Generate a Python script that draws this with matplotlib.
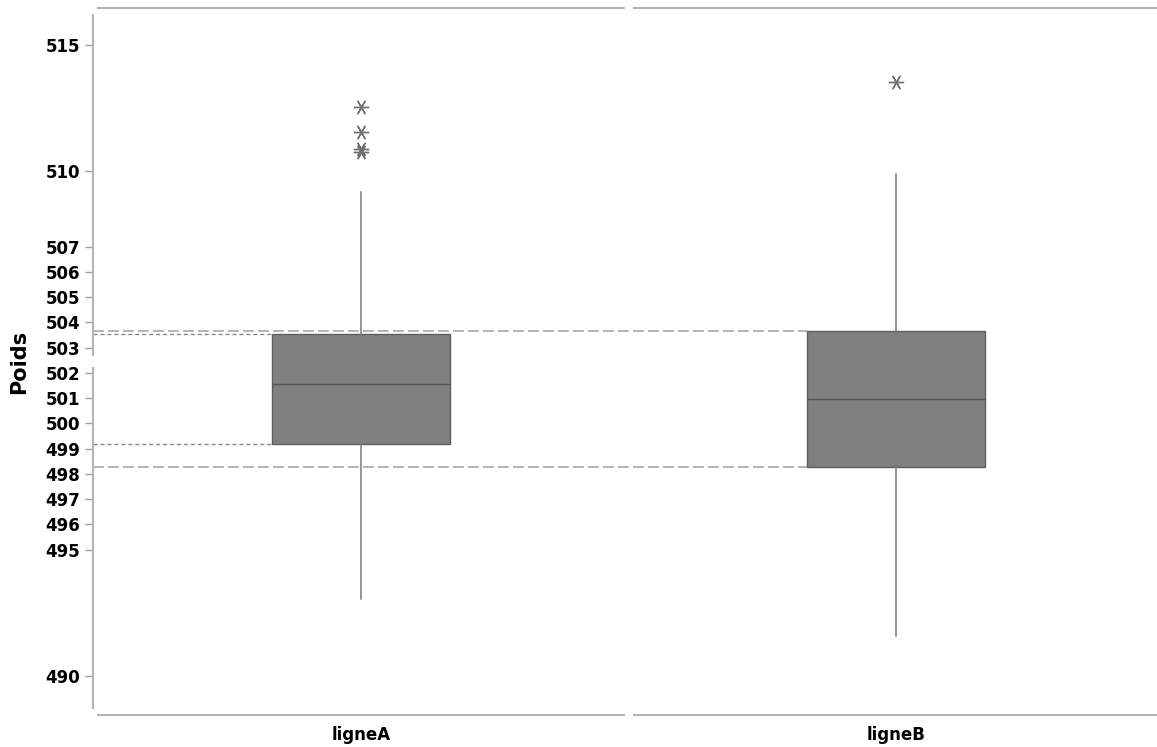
import matplotlib.pyplot as plt
from matplotlib.markers import MarkerStyle

# box statistics
groups = ["ligneA", "ligneB"]
q1 = [499.18, 498.28]
med = [501.56, 500.96]
q3 = [503.53, 503.66]
whislo = [493.04, 491.58]
whishi = [509.17, 509.88]
outliers = [[512.55, 511.56, 510.87, 510.75], [513.52]]

yticks = [490, 495, 496, 497, 498, 499, 500, 501, 502, 503, 504, 505, 506, 507, 510, 515]

W, H = 1157, 747
fig = plt.figure(figsize=(W / 100, H / 100), dpi=100)
ax = fig.add_axes([93 / W, (H - 715) / H, 1064 / W, (715 - 8) / H])

plt.rcParams['font.family'] = ['Open Sans', 'DejaVu Sans']

stats = []
for i, g in enumerate(groups):
    stats.append({"label": g, "q1": q1[i], "med": med[i], "q3": q3[i],
                  "whislo": whislo[i], "whishi": whishi[i], "fliers": outliers[i]})

box_w = 0.333
star = MarkerStyle((6, 2, 90))
ax.bxp(stats, positions=[0, 1], widths=box_w, showcaps=False, patch_artist=True,
       boxprops=dict(facecolor="#808080", edgecolor="#5e5e5e", linewidth=1),
       medianprops=dict(color="#555555", linewidth=1),
       whiskerprops=dict(color="#7a7a7a", linewidth=1.1),
       flierprops=dict(marker=star, markersize=11, markeredgecolor="#707070",
                       markerfacecolor="none", markeredgewidth=1, linestyle="none"),
       zorder=3)

xl, xr = -0.501, 1.488
ax.set_xlim(xl, xr)
ax.set_ylim(488.455, 516.455)

# reference lines from the axis to the boxes
for i, (ls_dash, lw, col) in enumerate([((3, 2), 1.0, "#8a8a8a"), ((6.5, 2.5), 1.2, "#a8a8a8")]):
    for v in (q1[i], q3[i]):
        ax.hlines(v, xl, i - box_w / 2, colors=col, linewidth=lw,
                  linestyles=(0, ls_dash), zorder=2)

for s in ax.spines.values():
    s.set_visible(False)

# broken left axis and split top/bottom frame
spine_col = "#b4b4b4"
ax.vlines(xl, 502.67, 516.22, colors=spine_col, linewidth=1.5, clip_on=False)
ax.vlines(xl, 488.69, 502.24, colors=spine_col, linewidth=1.5, clip_on=False)
for yy in (0, 1):
    ax.axhline(516.455 if yy else 488.455, xmin=5 / 1064, xmax=531 / 1064,
               color=spine_col, linewidth=1.5, clip_on=False)
    ax.axhline(516.455 if yy else 488.455, xmin=541 / 1064, xmax=1.0,
               color=spine_col, linewidth=1.5, clip_on=False)

ax.set_yticks(yticks)
ax.set_yticklabels([str(t) for t in yticks], fontsize=12, fontweight="bold")
ax.tick_params(axis="y", length=6, width=1, color="#a0a0a0", pad=3)
ax.set_xticks([0, 1])
ax.set_xticklabels(groups, fontsize=12, fontweight="bold")
ax.tick_params(axis="x", length=0, pad=8)

ax.set_ylabel("Poids", fontsize=15, fontweight="bold")
ax.yaxis.set_label_coords(-64 / 1064, 0.5)

fig.savefig("out.png", dpi=100)
